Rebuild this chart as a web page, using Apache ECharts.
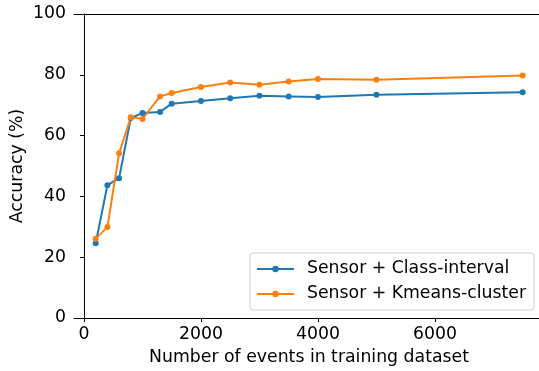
<!DOCTYPE html>
<html>
<head>
<meta charset="utf-8">
<script src="https://cdn.jsdelivr.net/npm/echarts@6/dist/echarts.min.js"></script>
<style>
  html, body { margin: 0; padding: 0; background: #fff; }
  #chart { width: 539px; height: 371px; }
</style>
</head>
<body>
<div id="chart"></div>
<script>
// training set sizes (x values)
const events = [200, 400, 600, 800, 1000, 1300, 1500, 2000, 2500, 3000, 3500, 4000, 5000, 7500];
// accuracy (%)
const classInterval = [24.6, 43.7, 46.0, 65.8, 67.4, 67.8, 70.5, 71.4, 72.3, 73.1, 72.9, 72.7, 73.4, 74.3];
const kmeansCluster = [26.1, 29.9, 54.2, 66.0, 65.5, 72.9, 74.0, 76.0, 77.5, 76.7, 77.8, 78.6, 78.4, 79.8];
const xTicks = [0, 2000, 4000, 6000];
const yTicks = [0, 20, 40, 60, 80, 100];

const font = 'DejaVu Sans';
const fs = 17.3;

function pairs(ys) {
  return events.map(function (x, i) { return [x, ys[i]]; });
}

const chart = echarts.init(document.getElementById('chart'), null, { renderer: 'canvas' });

chart.setOption({
  animation: false,
  backgroundColor: '#fff',
  color: ['#1f77b4', '#ff7f0e'],
  textStyle: { fontFamily: font },
  grid: {
    left: 74,
    top: 14,
    width: 470,
    bottom: 53,
    containLabel: false,
    outerBoundsMode: 'none'
  },
  legend: {
    orient: 'vertical',
    left: 250,
    top: 253,
    padding: [6, 8, 6, 6],
    itemGap: 5,
    itemWidth: 37,
    itemHeight: 8,
    backgroundColor: 'rgba(255,255,255,0.8)',
    borderColor: '#d0d0d0',
    borderWidth: 1,
    borderRadius: 3,
    textStyle: {
      fontFamily: font,
      fontSize: fs,
      color: '#000',
      lineHeight: 20,
      padding: [0, 0, 0, 8]
    },
    data: ['Sensor + Class-interval', 'Sensor + Kmeans-cluster']
  },
  xAxis: [{
    type: 'value',
    min: -171,
    max: 7865,
    name: 'Number of events in training dataset',
    nameLocation: 'middle',
    nameGap: 31,
    nameMoveOverlap: false,
    nameTextStyle: { fontFamily: font, fontSize: fs, color: '#000' },
    splitLine: { show: false },
    axisLine: { show: true, onZero: false, lineStyle: { color: '#000', width: 1 } },
    axisTick: { show: true, length: 4, customValues: xTicks, lineStyle: { color: '#000' } },
    axisLabel: {
      customValues: xTicks, margin: 8, fontFamily: font, fontSize: fs, color: '#000',
      formatter: function (v) { return String(v); }
    }
  }, {
    type: 'value',
    position: 'top',
    min: -171,
    max: 7865,
    splitLine: { show: false },
    axisLine: { show: true, onZero: false, lineStyle: { color: '#000', width: 1 } },
    axisTick: { show: false },
    axisLabel: { show: false }
  }],
  yAxis: {
    type: 'value',
    min: 0,
    max: 100,
    interval: 20,
    name: 'Accuracy (%)',
    nameLocation: 'middle',
    nameGap: 48,
    nameMoveOverlap: false,
    nameTextStyle: { fontFamily: font, fontSize: fs, color: '#000' },
    splitLine: { show: false },
    axisLine: { show: true, lineStyle: { color: '#000', width: 1 } },
    axisTick: { show: true, length: 4, customValues: yTicks, lineStyle: { color: '#000' } },
    axisLabel: { customValues: yTicks, margin: 8, fontFamily: font, fontSize: fs, color: '#000' }
  },
  series: [{
    name: 'Sensor + Class-interval',
    type: 'line',
    xAxisIndex: 0,
    symbol: 'circle',
    symbolSize: 6,
    lineStyle: { width: 2 },
    data: pairs(classInterval)
  }, {
    name: 'Sensor + Kmeans-cluster',
    type: 'line',
    xAxisIndex: 0,
    symbol: 'circle',
    symbolSize: 6,
    lineStyle: { width: 2 },
    data: pairs(kmeansCluster)
  }]
});
</script>
</body>
</html>
